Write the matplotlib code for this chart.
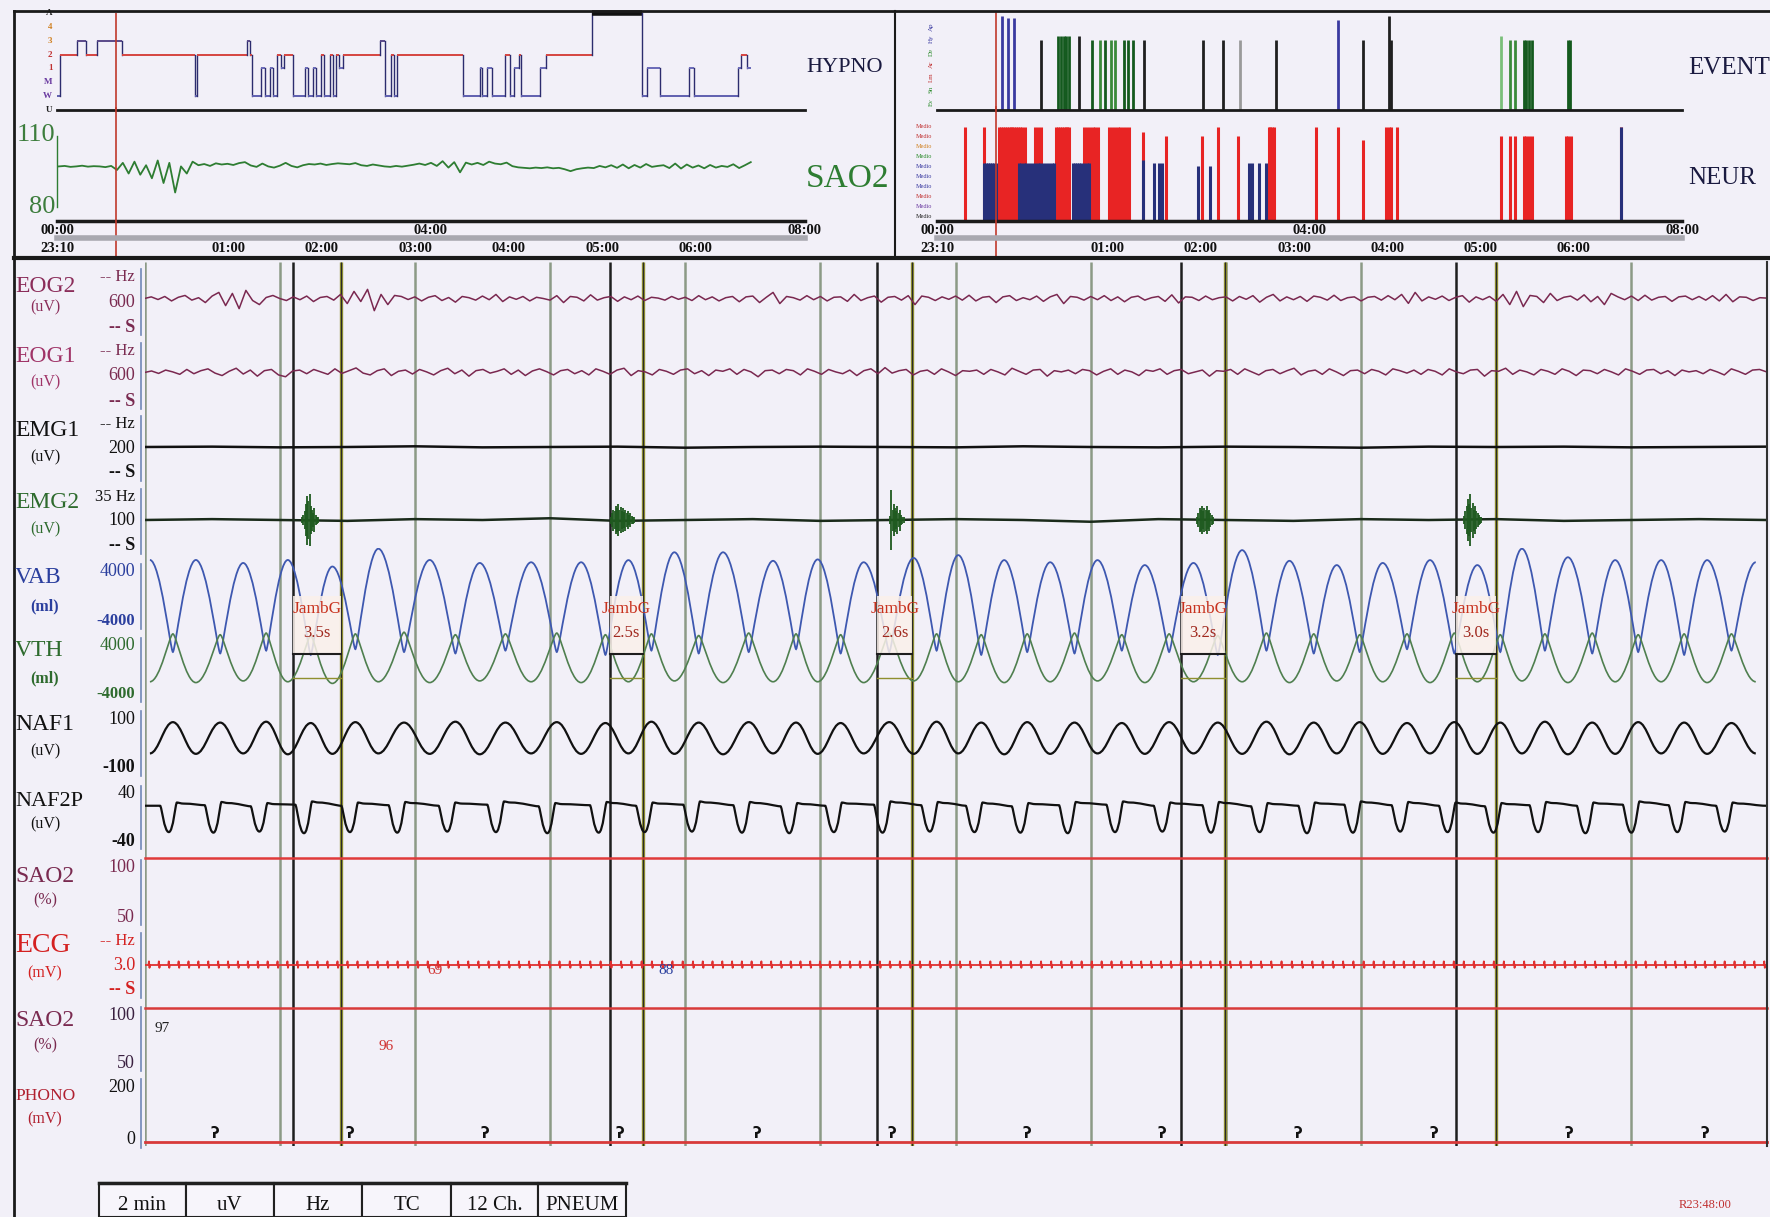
import numpy as np
import matplotlib
matplotlib.use('Agg')
import matplotlib.pyplot as plt
from matplotlib.lines import Line2D
from matplotlib.path import Path
from matplotlib.patches import PathPatch, Rectangle
from matplotlib import transforms

plt.rcParams['font.family'] = ['Liberation Serif', 'DejaVu Serif']

W, H = 1770, 1217
BG = '#f2f0f8'

# ---------------- overview data (hours after 23:10) ----------------
stageNames = ['U', 'W', 'M', '1', '2', '3', '4', 'A']
hypT = [0.0, 0.03, 0.21, 0.31, 0.43, 0.70, 1.48, 1.50, 2.03, 2.06, 2.09, 2.18, 2.22, 2.28,
        2.31, 2.35, 2.40, 2.43, 2.52, 2.65, 2.68, 2.74, 2.77, 2.82, 2.86, 2.92, 2.95, 2.98,
        3.02, 3.06, 3.45, 3.51, 3.57, 3.60, 3.64, 4.34, 4.52, 4.55, 4.60, 4.65, 4.79, 4.85,
        4.89, 4.94, 4.96, 5.17, 5.23, 5.72, 6.26, 6.31, 6.45, 6.76, 6.81, 7.28, 7.32, 7.38, 7.42]
hypStage = ['W', '2', '3', '2', '3', '2', 'W', '2', '3', '2', 'W', '1', 'W', '1', 'W', '2',
            '1', '2', 'W', '1', 'W', '1', 'W', '2', 'W', '2', 'W', '2', '1', '2', '3', 'W',
            '2', 'W', '2', 'W', '1', 'W', '1', 'W', '2', 'W', '1', '2', 'W', '1', '2', 'A',
            'W', '1', 'W', '1', 'W', '1', '2', '1', '1']

sao2Trend = [97, 97.2, 96.8, 97, 97.3, 96.9, 97.1, 97, 96.7, 97.2,
             95.5, 98.5, 94, 99, 93.5, 97.5, 92, 99.5, 90,
             98.5, 86, 97, 94, 99,
             97.5, 98, 97.2, 98.3, 97.8, 98.1, 97.6, 98.4,
             98.8, 97.4, 96.8, 98.2, 97, 96.5, 97.3, 98.5,
             97.2, 96.6, 97.5, 98, 97.8, 98.2, 97.6, 98,
             98.3, 98.1, 97.9, 98.4, 97.5, 97.2, 97.8, 97.4,
             97, 96.8, 97.2, 96.9, 97.3, 97.7, 98.2, 97.6,
             98.5, 97.2, 99.2, 96.5, 98.8, 94.5, 98.6, 97.8,
             98.5, 97.6, 99, 98.2, 97.9, 98.6, 97.1, 96.6,
             96.4, 96.2, 96.5, 96.3, 96.6, 96.2, 96.4, 95.8,
             95, 95.8, 96.2, 96.5, 96.3, 97.2, 96.6, 97.5,
             96.4, 97.8, 96.2, 97.6, 96.5, 98, 96.8, 97.2,
             97.5, 96.3, 98.2, 96.1, 97.8, 96.5, 97.4, 96.2,
             97.6, 96.5, 97.2, 96.8, 97.9, 96.3, 97.5, 98.8]

evT = [0.70, 0.76, 0.83, 1.12, 1.30, 1.33, 1.36, 1.39, 1.42, 1.53, 1.66, 1.75, 1.80, 1.87,
       1.91, 2.01, 2.05, 2.10, 2.22, 2.86, 3.07, 3.25, 3.64, 4.31, 4.57, 4.85, 4.88, 6.06,
       6.15, 6.21, 6.30, 6.33, 6.36, 6.39, 6.78, 6.80]
evKind = ['b', 'b', 'b', 'k', 'd', 'd', 'd', 'd', 'd', 'k', 'd', 'g', 'd', 'g', 'g', 'd',
          'd', 'd', 'k', 'k', 'k', 'y', 'k', 'b', 'k', 'k', 'k', 'l', 'g', 'g', 'd', 'd',
          'd', 'd', 'd', 'd']
evH = [0.97, 0.95, 0.95, 0.72, 0.76, 0.76, 0.76, 0.76, 0.76, 0.76, 0.72, 0.72, 0.72, 0.72,
       0.72, 0.72, 0.72, 0.72, 0.72, 0.72, 0.72, 0.72, 0.72, 0.93, 0.72, 0.97, 0.72, 0.76,
       0.72, 0.72, 0.72, 0.72, 0.72, 0.72, 0.72, 0.72]

neurRedT = [0.30, 0.51, 0.67, 0.69, 0.71, 0.73, 0.75, 0.77, 0.79, 0.81, 0.83, 0.85, 0.87,
            0.89, 0.91, 0.94, 1.05, 1.08, 1.12, 1.28, 1.30, 1.32, 1.34, 1.36, 1.38, 1.40,
            1.42, 1.58, 1.61, 1.64, 1.67, 1.70, 1.73, 1.85, 1.88, 1.91, 1.94, 1.97, 2.00,
            2.03, 2.06, 2.21, 2.46, 2.85, 3.02, 3.23, 3.56, 3.58, 3.60, 3.62, 4.07, 4.31,
            4.57, 4.82, 4.85, 4.88, 4.94, 6.06, 6.15, 6.21, 6.30, 6.33, 6.36, 6.39, 6.75,
            6.78, 6.81, 7.35]
neurRedH = [0.95, 0.95, 0.95, 0.95, 0.95, 0.95, 0.95, 0.95, 0.95, 0.95, 0.95, 0.95, 0.95,
            0.95, 0.95, 0.95, 0.95, 0.95, 0.95, 0.95, 0.95, 0.95, 0.95, 0.95, 0.95, 0.95,
            0.95, 0.95, 0.95, 0.95, 0.95, 0.95, 0.95, 0.95, 0.95, 0.95, 0.95, 0.95, 0.95,
            0.95, 0.95, 0.90, 0.86, 0.86, 0.95, 0.86, 0.95, 0.95, 0.95, 0.95, 0.95, 0.95,
            0.82, 0.95, 0.95, 0.95, 0.95, 0.86, 0.86, 0.86, 0.86, 0.86, 0.86, 0.86, 0.86,
            0.86, 0.86, 0.95]
neurBlueT = [0.51, 0.53, 0.55, 0.57, 0.59, 0.61, 0.63, 0.88, 0.90, 0.93, 0.96, 0.99, 1.02,
             1.05, 1.08, 1.11, 1.14, 1.17, 1.20, 1.23, 1.26, 1.46, 1.48, 1.50, 1.52, 1.55,
             1.58, 1.61, 1.63, 2.21, 2.33, 2.38, 2.42, 2.80, 2.93, 3.35, 3.38, 3.46, 3.53, 7.35]
neurBlueH = [0.59, 0.59, 0.59, 0.59, 0.59, 0.59, 0.59, 0.59, 0.59, 0.59, 0.59, 0.59, 0.59,
             0.59, 0.59, 0.59, 0.59, 0.59, 0.59, 0.59, 0.59, 0.59, 0.59, 0.59, 0.59, 0.59,
             0.59, 0.59, 0.59, 0.62, 0.59, 0.59, 0.59, 0.56, 0.56, 0.59, 0.59, 0.59, 0.59, 0.95]

cursorH = 0.633
hourTicks = [0, 4, 8]
hourLabels = ['00:00', '04:00', '08:00']
clockTicks = [0, 1.833, 2.833, 3.833, 4.833, 5.833, 6.833]
clockLabels = ['23:10', '01:00', '02:00', '03:00', '04:00', '05:00', '06:00']

# ---------------- 2-minute page data (seconds) ----------------
eog2 = [0, 8, -5, 10, -12, 6, 15, -8, 4, -20, 12, 30, -35, 25, -50, 40, -10, -30, 5, 15,
        0, -10, 8, -6, 12, -15, 5, 10, -8, 20, -25, 35, -15, 45, -60, 20, -30, 15, 10, -5,
        8, -12, 6, 14, -10, 5, -18, 10, 4, -8, 12, -6, 20, -15, 8, -4, 10, -12, 6, 0,
        -8, 14, -20, 10, 6, -12, 18, -8, 4, 10, -14, 8, -6, 12, -10, 6, 2, -8, 10, -4,
        6, -10, 14, -6, 8, -12, 4, 10, -16, 8, 12, -20, 6, 30, -25, 10, 4, -8, 14, -6,
        10, -12, 6, 8, -14, 20, -10, 4, 12, -18, 6, 10, -8, 14, -30, 12, 6, -10, 8, -4,
        12, -8, 16, -12, 6, 10, -20, 8, 14, -10, 4, -6, 12, -14, 8, 20, -25, 10, 6, -8,
        10, -6, 14, -10, 8, -16, 6, 12, -8, 4, 10, -14, 18, -22, 8, 6, -10, 12, -6, 4,
        8, -12, 10, -4, 14, -18, 6, 20, -12, 8, -6, 10, -14, 12, 6, -8, 16, -10, 4, 8,
        -12, 6, 10, -8, 14, -6, 20, -24, 30, -12, 8, -4, 12, -10, 6, 14, -18, 8, -6, 10,
        -14, 20, -30, 35, -40, 15, 10, -20, 25, -10, 6, 12, -8, 18, -16, 10, -30, 25, 8, -6,
        12, -10, 16, -8, 6, 10, -14, 8, 12, -6, 10, -8, 14, -12, 20, -16, 8, 6, -10, 4, 2]
eog1 = [0, 5, -3, 8, 2, -6, 10, -4, 6, 12, -2, -10, 4, 14, -5, 8, -12, 6, 10, -8,
        -14, 5, 8, -4, 10, 2, -6, 12, -3, 6, 15, -2, -8, 6, 12, -10, 4, 8, -5, 10,
        2, -8, 6, 14, -4, 8, -12, 6, 10, -2, 4, 12, -6, 8, -10, 5, 12, 3, -8, 6,
        10, -4, 6, -8, 12, 4, -6, 8, 14, -10, 6, 2, -8, 10, 4, -6, 8, 12, -4, 6,
        -10, 8, 4, 12, -6, 10, 2, -14, 6, 8, -4, 10, 6, -8, 12, 4, -6, 10, 2, -4,
        8, -10, 6, 12, -4, 16, -2, 6, 10, -8, 4, 8, -6, 12, 2, -10, 6, 4, 8, -6,
        10, 2, -8, 14, 4, -6, 8, 10, -12, 6, 2, 8, -4, 10, 6, -8, 4, 12, -6, 8,
        2, -10, 8, 4, 12, -6, 6, 10, -4, 2, 8, -12, 6, 4, 10, -6, 12, 2, -8, 6,
        10, -4, 6, 14, -8, 4, 8, -6, 12, 2, -10, 6, 8, -4, 10, 4, -8, 12, 6, -2,
        8, -6, 10, 4, -8, 12, 2, -4, 8, 10, -12, 6, 4, 14, -6, 8, 2, -8, 10, 4,
        -6, 12, 4, -10, 8, 6, -4, 10, 2, -8, 12, 4, -6, 8, 10, -4, 6, -10, 8, 2,
        6, -4, 10, 2, -8, 12, 4, -6, 8, 10, 2]
emg1 = [0, 1, -1, 0, 2, -1, 0, 1, -2, 0, 1, 0, -1, 2, 0, -1, 1, 0, -2, 1, 0, 1, -1, 0, 1]
emg2 = [0, 1, 0, -1, 1, 0, 2, -1, 0, 1, -1, 0, 1, 0, -2, 1, 0, -1, 1, 0, 1, -1, 0, 1, 0]
burstT = [12.3, 35.4, 55.7, 78.5, 98.3]
burstAmp = [[3, 6, 10, 18, 28, 22, 30, 16, 12, 8, 14, 6, 4, 3],
            [4, 8, 12, 10, 16, 14, 18, 12, 15, 10, 14, 9, 12, 8, 10, 6, 8, 5, 4, 3],
            [5, 34, 12, 18, 14, 10, 16, 8, 12, 6, 4, 3],
            [4, 8, 14, 12, 16, 10, 14, 12, 16, 10, 12, 8, 6, 4],
            [5, 10, 16, 24, 18, 30, 14, 20, 12, 16, 10, 8, 6, 4, 3]]

abPeakT = [0.4, 3.8, 7.3, 10.6, 13.9, 17.3, 21.1, 24.8, 28.6, 32.3, 35.8, 39.2, 42.8, 46.5,
           49.8, 53.2, 56.9, 60.2, 63.6, 67.0, 70.5, 74.0, 77.6, 81.2, 84.7, 88.2, 91.6, 95.1,
           98.6, 101.9, 105.3, 108.8, 112.2, 115.6, 119.2]
abTroughT = [2.1, 5.6, 9.0, 12.3, 15.6, 19.2, 23.0, 26.7, 30.5, 34.1, 37.5, 41.0, 44.7, 48.2,
             51.5, 55.1, 58.6, 61.9, 65.3, 68.8, 72.3, 75.8, 79.4, 83.0, 86.5, 89.9, 93.4,
             96.9, 100.3, 103.6, 107.1, 110.5, 113.9, 117.4]
vabPeak = [3160, 3160, 2950, 3160, 2700, 3950, 3160, 2950, 3000, 3000, 3150, 3700, 3700, 3100,
           3200, 3000, 3300, 3500, 3150, 3000, 3150, 2800, 2950, 3850, 3100, 2800, 2950, 3150,
           2800, 3950, 3350, 3150, 3150, 3150, 3000]
vabTrough = [-3300, -3400, -3200, -3500, -3100, -3300, -3400, -3200, -3300, -3500, -3200,
             -3400, -3300, -3100, -3400, -3300, -3200, -3500, -3300, -3400, -3200, -3300,
             -3500, -3200, -3400, -3300, -3100, -3400, -3300, -3200, -3400, -3300, -3500, -3200]
vthPeak = [2800, 2700, 2900, 2600, 2800, 3000, 2700, 2800, 2900, 2700, 2800, 2600, 2900, 2800,
           2700, 2900, 2800, 2700, 2800, 2900, 2700, 2800, 2600, 2900, 2800, 2700, 2800, 2900,
           2700, 2800, 2900, 2700, 2800, 2800]
vthTrough = [-3000, -3100, -2900, -3000, -3200, -3000, -3100, -2900, -3000, -3100, -3000,
             -2900, -3100, -3000, -3000, -3100, -2900, -3000, -3100, -3000, -2900, -3100,
             -3000, -3000, -3100, -2900, -3000, -3100, -3000, -2900, -3100, -3000, -3000,
             -3100, -3000]
naf1Peak = [72, 70, 74, 68, 72, 70, 74, 70, 72, 68, 74, 70, 72, 70, 68, 72, 74, 70, 72, 70,
            68, 72, 70, 74, 70, 72, 68, 72, 70, 74, 70, 72, 70, 68]
naf1Trough = [-70, -72, -70, -74, -72, -70, -72, -74, -70, -72, -70, -72, -74, -70, -72, -70,
              -72, -70, -74, -72, -70, -72, -70, -72, -74, -70, -72, -70, -72, -70, -74, -72,
              -70, -72, -70]
naf2pDipT = [1.8, 5.1, 8.5, 11.8, 15.2, 18.7, 22.4, 26.0, 29.8, 33.6, 37.0, 40.5, 44.2, 47.7,
             51.0, 54.6, 58.1, 61.4, 64.8, 68.3, 71.8, 75.3, 78.9, 82.5, 86.0, 89.4, 92.9,
             96.4, 99.8, 103.1, 106.6, 110.0, 113.4, 116.9]
naf2pTop = [26, 27, 25, 28, 26, 27, 26, 28, 25, 27, 26, 28, 27, 25, 26, 28, 27, 26, 25, 27,
            28, 26, 27, 25, 26, 28, 27, 26, 25, 27, 26, 28, 27, 26]
naf2pShoulder = [20, 21, 19, 22, 20, 21, 20, 22, 19, 21, 20, 22, 21, 19, 20, 22, 21, 20, 19,
                 21, 22, 20, 21, 19, 20, 22, 21, 20, 19, 21, 20, 22, 21, 20]
naf2pLow = [-29, -30, -28, -31, -29, -30, -28, -29, -31, -30, -29, -28, -30, -31, -29, -30,
            -28, -29, -30, -31, -29, -28, -30, -29, -31, -30, -28, -29, -30, -29, -31, -30,
            -29, -28]
sao2A = [98, 98, 98, 98, 98, 98, 98, 98, 98, 98, 98, 98, 98]
sao2B = [98, 98, 98, 98, 98, 98, 98, 98, 98, 98, 98, 98, 98]
hrEpoch = [82, 81, 80, 79, 83, 81, 80, 82, 79, 81, 80, 82]
phonoMarkT = [5.2, 15.2, 25.2, 35.2, 45.3, 55.3, 65.3, 75.3, 85.3, 95.4, 105.4, 115.4]

epochLines = [0, 10, 20, 30, 40, 50, 60, 70, 80, 90, 100, 110, 120]
jambStart = [11.0, 34.4, 54.2, 76.7, 97.0]
jambDur = [3.5, 2.5, 2.6, 3.2, 3.0]
noteT = [1.3, 17.9, 21.5, 38.6]
noteText = ['97', '96', '69', '88']
noteColor = ['#202020', '#d03030', '#d03030', '#2a3f9e']
noteY = [1029, 1046, 971, 971]

chanNames = ['EOG2', 'EOG1', 'EMG1', 'EMG2', 'VAB', 'VTH', 'NAF1', 'NAF2P', 'SAO2', 'ECG',
             'SAO2', 'PHONO']
chanUnits = ['(uV)', '(uV)', '(uV)', '(uV)', '(ml)', '(ml)', '(uV)', '(uV)', '(%)', '(mV)',
             '(%)', '(mV)']
chanScales = [['-- Hz', '600', '-- S'], ['-- Hz', '600', '-- S'], ['-- Hz', '200', '-- S'],
              ['35 Hz', '100', '-- S'], ['4000', '-4000'], ['4000', '-4000'],
              ['100', '-100'], ['40', '-40'], ['100', '50'], ['-- Hz', '3.0', '-- S'],
              ['100', '50'], ['200', '0']]
buttons = ['2 min', 'uV', 'Hz', 'TC', '12 Ch.', 'PNEUM']

# ---------------- helpers ----------------
fig = plt.figure(figsize=(W / 100, H / 100), dpi=100, facecolor=BG)


def pxAxes(x0, y0, x1, y1, xlim, ylim):
    ax = fig.add_axes([x0 / W, 1 - y1 / H, (x1 - x0) / W, (y1 - y0) / H])
    ax.set_axis_off()
    ax.set_xlim(*xlim)
    ax.set_ylim(*ylim)
    return ax


def fline(xs, ys, **kw):
    fig.add_artist(Line2D([x / W for x in xs], [1 - y / H for y in ys], **kw))


def ftext(x, y, s, **kw):
    fig.text(x / W, 1 - y / H, s, **kw)


def smoothCurve(ax, t, v, hand, **kw):
    verts = [(t[0], v[0])]
    codes = [Path.MOVETO]
    for i in range(len(t) - 1):
        dt = t[i + 1] - t[i]
        verts += [(t[i] + hand[i] * dt, v[i]), (t[i + 1] - hand[i + 1] * dt, v[i + 1]),
                  (t[i + 1], v[i + 1])]
        codes += [Path.CURVE4] * 3
    ax.add_patch(PathPatch(Path(verts, codes), fill=False, **kw))


def interleave(a, b):
    out = []
    for i in range(len(a)):
        out.append(a[i])
        if i < len(b):
            out.append(b[i])
    return out


# ---------------- frame lines ----------------
fline([14, 1770], [11, 11], color='#1a1a1a', lw=2)
fline([14, 14], [11, 1217], color='#1a1a1a', lw=2)
fline([14, 1770], [258, 258], color='#1a1a1a', lw=3)
fline([895, 895], [11, 258], color='#1a1a1a', lw=1.5)
fline([1767, 1767], [262, 1146], color='#303030', lw=1.5)

# ---------------- hypnogram ----------------
stageColor = {'U': '#5c5ca8', 'W': '#6060b0', 'M': '#6060b0', '1': '#6a6ab8', '2': '#d64541',
              '3': '#5a4a8a', '4': '#5a4a8a', 'A': '#111111'}
axHyp = pxAxes(57, 13, 805, 110, (0, 8), (0, 7))
for i in range(len(hypT) - 1):
    lvl = stageNames.index(hypStage[i])
    nxt = stageNames.index(hypStage[i + 1])
    axHyp.plot([hypT[i], hypT[i + 1]], [lvl, lvl], color=stageColor[hypStage[i]],
               lw=4 if hypStage[i] == 'A' else 1.4, clip_on=False, solid_capstyle='butt')
    axHyp.plot([hypT[i + 1]] * 2, [lvl, nxt], color='#2c2c6e', lw=1.0, clip_on=False)
axHyp.axhline(0, color='#1a1a1a', lw=2, clip_on=False)
axHyp.axvline(cursorH, color='#c0392b', lw=1.2, ymax=1.0)
hypLabelColor = ['#222222', '#6a3aa0', '#6a3aa0', '#c03030', '#c03030', '#d08020', '#d08020',
                 '#222222']
for lvl, (nm, col) in enumerate(zip(stageNames, hypLabelColor)):
    axHyp.text(-0.05, lvl, nm, ha='right', va='center', fontsize=6.5, color=col,
               fontweight='bold')
ftext(806, 68, 'HYPNO', fontsize=16, color='#1a1a40', va='center')

# ---------------- SAO2 trend ----------------
axTrend = pxAxes(57, 113, 805, 221, (0, 8), (74, 119.5))
axTrend.plot(np.linspace(0.02, 7.42, len(sao2Trend)), sao2Trend, color='#2e7d32', lw=1.3)
axTrend.axhline(74, color='#1a1a1a', lw=2.5, clip_on=False)
axTrend.axvline(cursorH, color='#c0392b', lw=1.2, ymin=-0.34, ymax=1.05, clip_on=False)
axTrend.plot([0, 0], [80, 110], color='#2e7d32', lw=1, clip_on=False)
ftext(55, 135, '110', fontsize=19, color='#3d7d3d', ha='right', va='center')
ftext(55, 207, '80', fontsize=19, color='#3d7d3d', ha='right', va='center')
ftext(806, 179, 'SAO2', fontsize=24, color='#2e7d32', va='center')

# ---------------- events / neuro ----------------
evColor = {'b': '#3a3aa0', 'k': '#202020', 'g': '#3a8a3a', 'd': '#145a1e', 'y': '#9a9a9a',
           'l': '#7abf7a'}
axEv = pxAxes(937, 13, 1682, 110, (0, 8), (0, 1))
axEv.vlines(evT, 0, evH, colors=[evColor[k] for k in evKind], lw=2.0)
axEv.axhline(0, color='#1a1a1a', lw=2, clip_on=False)
axEv.axvline(cursorH, color='#c0392b', lw=1.2, clip_on=False)
evTick = ['Ev', 'Sn', 'Lm', 'Ar', 'De', 'Hy', 'Ap']
evTickColor = ['#2a8a2a', '#2a8a2a', '#c03030', '#c03030', '#2a8a2a', '#3a3aa0', '#3a3aa0']
for j, (s, c) in enumerate(zip(evTick, evTickColor)):
    axEv.text(-0.06, 0.08 + j * 0.13, s, rotation=90, fontsize=5, color=c, ha='center',
              va='center')
ftext(1688, 68, 'EVENT', fontsize=18, color='#1a1a40', va='center')

axNeur = pxAxes(937, 122, 1682, 221, (0, 8), (0, 1))
axNeur.vlines(neurRedT, 0, neurRedH, colors='#e82424', lw=2.2)
axNeur.vlines(neurBlueT, 0, neurBlueH, colors='#27307a', lw=2.2)
axNeur.axhline(0, color='#1a1a1a', lw=2.5, clip_on=False)
axNeur.axvline(cursorH, color='#c0392b', lw=1.2, ymin=-0.37, ymax=1.15, clip_on=False)
neurTickColor = ['#222222', '#6a3aa0', '#c03030', '#3a3aa0', '#3a3aa0', '#3a3aa0', '#2a8a2a',
                 '#d08020', '#c03030', '#c03030']
for j, c in enumerate(neurTickColor):
    axNeur.text(-0.05, 0.05 + j * 0.1, 'Medio', fontsize=4.5, color=c, ha='right',
                va='center')
ftext(1688, 178, 'NEUR', fontsize=18, color='#1a1a40', va='center')

# time axes under both overview panels
for ax, x0, x1 in [(axTrend, 57, 805), (axNeur, 937, 1682)]:
    fline([x0, x1], [238, 238], color='#a8a8b0', lw=4)
    trans = transforms.blended_transform_factory(ax.transData, fig.transFigure)
    for h, lab in zip(hourTicks, hourLabels):
        ax.text(h, 1 - 230 / H, lab, transform=trans, ha='center', va='center',
                fontsize=10.5, color='#111111', fontweight='bold')
    for h, lab in zip(clockTicks, clockLabels):
        ax.text(h, 1 - 249 / H, lab, transform=trans, ha='center', va='center',
                fontsize=10.5, color='#111111', fontweight='bold')

# ---------------- 2-minute page ----------------
X0, X1, YT, YB = 144.5, 1766.6, 262, 1146
axBg = pxAxes(X0, YT, X1, YB, (0, 120), (YB, YT))
axBg.vlines(epochLines, YB, YT, colors='#8c9a86', lw=1.8)
for s, d in zip(jambStart, jambDur):
    axBg.vlines(s, YB, YT, colors='#1e1e1e', lw=1.8)
    axBg.vlines(s + d, YB, YT, colors='#8f8f2f', lw=2.4)
    axBg.vlines(s + d, YB, YT, colors='#2a2a2a', lw=0.8)

# EOG / EMG
axE2 = pxAxes(X0, 262, X1, 335, (0, 120), (-180, 180))
axE2.plot(np.linspace(0, 120, len(eog2)), eog2, color='#7a2850', lw=1.1)
axE1 = pxAxes(X0, 336, X1, 409, (0, 120), (-120, 120))
axE1.plot(np.linspace(0, 120, len(eog1)), eog1, color='#7a2850', lw=1.1)
axM1 = pxAxes(X0, 412, X1, 482, (0, 120), (-100, 100))
axM1.plot(np.linspace(0, 120, len(emg1)), emg1, color='#111111', lw=1.8)
axM2 = pxAxes(X0, 485, X1, 555, (0, 120), (-40, 40))
axM2.plot(np.linspace(0, 120, len(emg2)), emg2, color='#1a2a1a', lw=1.8)
for c, amps in zip(burstT, burstAmp):
    offs = (np.arange(len(amps)) - len(amps) / 2) * 0.09
    axM2.vlines(c + offs, [-a for a in amps], amps, colors='#1f5a1f', lw=1.3, clip_on=False)

# respiration
axVab = pxAxes(X0, 548, X1, 662, (0, 120), (-4000, 4000))
tAll = interleave(abPeakT, abTroughT)
smoothCurve(axVab, tAll, interleave(vabPeak, vabTrough),
            interleave([0.45] * len(abPeakT), [0.1] * len(abTroughT)),
            edgecolor='#3e58b0', lw=1.3)
axVth = pxAxes(X0, 624, X1, 690, (0, 120), (-4000, 4000))
smoothCurve(axVth, tAll, interleave(vthTrough, vthPeak),
            interleave([0.45] * len(abPeakT), [0.15] * len(abTroughT)),
            edgecolor='#4f7f4f', lw=1.2)
axN1 = pxAxes(X0, 716, X1, 760, (0, 120), (-100, 100))
smoothCurve(axN1, tAll, interleave(naf1Trough, naf1Peak), [0.38] * len(tAll),
            edgecolor='#111111', lw=1.6)
axN2 = pxAxes(X0, 795, X1, 838, (0, 120), (-40, 40))
n2t, n2v, n2h = [0.0], [naf2pShoulder[0]], [0.4]
for d, top, sh, low in zip(naf2pDipT, naf2pTop, naf2pShoulder, naf2pLow):
    n2t += [d - 0.65, d, d + 0.6, d + 1.1]
    n2v += [sh, low, top, top - 2]
    n2h += [0.2, 0.55, 0.2, 0.4]
n2t.append(120.0)
n2v.append(naf2pShoulder[-1])
n2h.append(0.4)
smoothCurve(axN2, n2t, n2v, n2h, edgecolor='#111111', lw=1.6)

# SAO2 / ECG / PHONO
axS1 = pxAxes(X0, 856, X1, 917, (0, 120), (50, 100))
axS1.plot(np.linspace(0, 120, len(sao2A)), sao2A, color='#e03a3a', lw=1.8, clip_on=False)
axEcg = pxAxes(X0, 940, X1, 990, (0, 120), (-1.5, 1.5))
ecgT, ecgV = [0.0], [0.0]
beat = 0.35
for k, hr in enumerate(hrEpoch):
    while beat < (k + 1) * 10:
        ecgT += [beat - 0.06, beat - 0.02, beat + 0.02, beat + 0.06]
        ecgV += [0.0, 0.22, -0.17, 0.0]
        beat += 60.0 / hr
ecgT.append(120.0)
ecgV.append(0.0)
axEcg.plot(ecgT, ecgV, color='#e03030', lw=1.3)
axS2 = pxAxes(X0, 1006, X1, 1064, (0, 120), (50, 100))
axS2.plot(np.linspace(0, 120, len(sao2B)), sao2B, color='#d83a3a', lw=1.8, clip_on=False)
axPh = pxAxes(X0, 1084, X1, 1142, (0, 120), (0, 200))
axPh.axhline(0, color='#d83a3a', lw=2, clip_on=False)
for t in phonoMarkT:
    axPh.text(t, 2, '\u0294', fontsize=11, ha='center', va='bottom', color='#111111',
              family='DejaVu Sans', fontweight='bold')

# overlay: JambG scoring boxes and values
axTop = pxAxes(X0, YT, X1, YB, (0, 120), (YB, YT))
for s, d in zip(jambStart, jambDur):
    axTop.add_patch(Rectangle((s, 596), d, 58, facecolor='#fbf1ea', edgecolor='none',
                              alpha=0.85))
    axTop.plot([s, s + d], [654, 654], color='#1e1e1e', lw=1.5)
    axTop.plot([s, s + d], [678, 678], color='#8f8f2f', lw=1.0)
    axTop.text(s + d / 2, 609, 'JambG', ha='center', va='center', fontsize=12.5,
               color='#c8321e')
    axTop.text(s + d / 2, 633, f'{d:.1f}s', ha='center', va='center', fontsize=12,
               color='#a0281e')
for t, s, c, y in zip(noteT, noteText, noteColor, noteY):
    axTop.text(t, y, s, ha='center', va='center', fontsize=11, color=c)

# ---------------- channel labels ----------------
nameY = [286, 357, 430, 503, 577, 650, 724, 801, 876, 946, 1020, 1096]
unitY = [307, 382, 457, 529, 606, 678, 751, 824, 900, 973, 1045, 1119]
scaleY = [[277, 302, 327], [351, 376, 401], [424, 449, 473], [497, 521, 546], [572, 621],
          [646, 694], [719, 768], [794, 841], [868, 917], [941, 966, 990], [1015, 1063],
          [1087, 1140]]
nameColor = ['#8b2d5a', '#a03468', '#111111', '#2e6b2e', '#2b3f9e', '#2e6b2e', '#111111',
             '#111111', '#7a2a50', '#d42020', '#7a2a50', '#b02030']
scaleColor = ['#7a2a50', '#7a2a50', '#111111', '#111111', '#2b3f9e', '#2e6b2e', '#111111',
              '#111111', '#7a2a50', '#d42020', '#3a2040', '#111111']
nameSize = [17, 17, 17, 17, 17, 17, 17, 16, 17, 20, 17, 12.5]
for i, nm in enumerate(chanNames):
    ftext(15, nameY[i], nm, fontsize=nameSize[i], color=nameColor[i], va='center')
    ftext(45, unitY[i], chanUnits[i], fontsize=11.5, color=nameColor[i], ha='center',
          va='center', fontweight='bold' if chanUnits[i] == '(ml)' else 'normal')
    for s, y in zip(chanScales[i], scaleY[i]):
        ftext(135, y, s, fontsize=13 if len(s) < 5 else 12, color=scaleColor[i], ha='right',
              va='center', fontweight='bold' if s.startswith('-') and 'Hz' not in s else 'normal')
    top, bot = scaleY[i][0] - 8, scaleY[i][-1] + 8
    fline([141, 141], [top, bot], color='#7088b8', lw=1.2)

# ---------------- bottom buttons ----------------
edges = [99, 186, 274, 362, 451, 538, 626]
for i, lab in enumerate(buttons):
    fig.add_artist(Rectangle((edges[i] / W, 0), (edges[i + 1] - edges[i]) / W,
                             1 - 1183 / H, transform=fig.transFigure, facecolor='#f7f5fb',
                             edgecolor='#202020', lw=1.5))
    ftext((edges[i] + edges[i + 1]) / 2, 1205, lab, fontsize=15, ha='center', va='center',
          color='#111111')
fline([99, 626], [1183, 1183], color='#202020', lw=2.5)
ftext(1705, 1205, 'R23:48:00', fontsize=9, color='#c03030', ha='center', va='center')

fig.savefig('out.png', dpi=100, facecolor=BG)
